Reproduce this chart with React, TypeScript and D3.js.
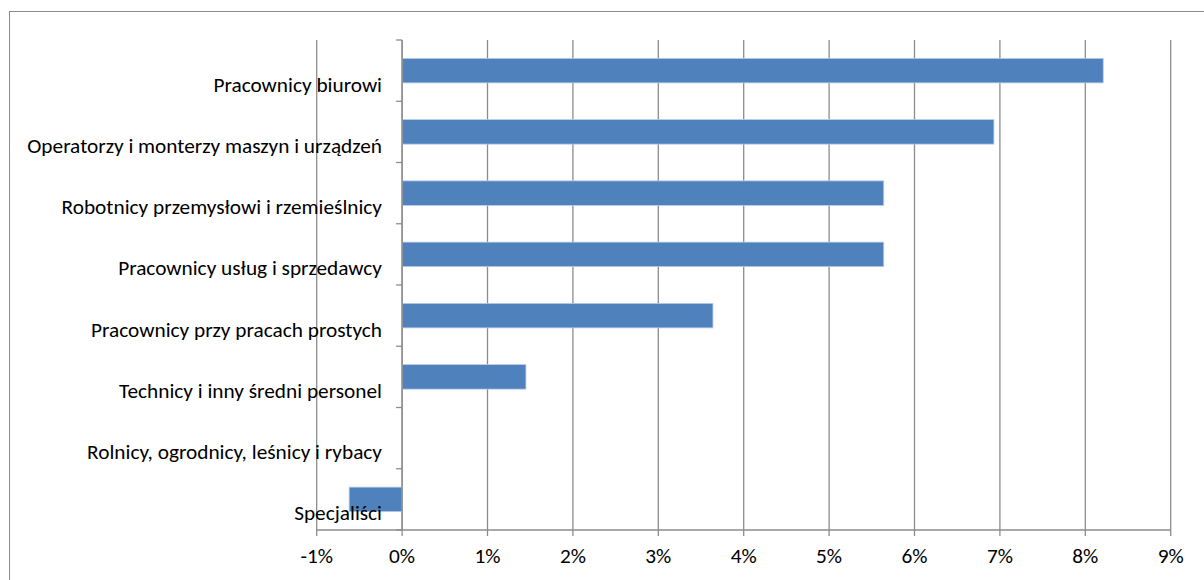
import * as d3 from 'd3';

const width = 1204;
const height = 580;

// categories top to bottom
const categories = [
  'Pracownicy biurowi',
  'Operatorzy i monterzy maszyn i urządzeń',
  'Robotnicy przemysłowi i rzemieślnicy',
  'Pracownicy usług i sprzedawcy',
  'Pracownicy przy pracach prostych',
  'Technicy i inny średni personel',
  'Rolnicy, ogrodnicy, leśnicy i rybacy',
  'Specjaliści',
];
const values = [0.0821, 0.0693, 0.0564, 0.0564, 0.0364, 0.0145, 0, -0.0062];
const xTicks = [-0.01, 0, 0.01, 0.02, 0.03, 0.04, 0.05, 0.06, 0.07, 0.08, 0.09];

const plot = { left: 316.7, right: 1170.7, top: 40, bottom: 530 };
const font = 'Carlito, Calibri, "Open Sans", sans-serif';

export default function App() {
  const x = d3.scaleLinear().domain([-0.01, 0.09]).range([plot.left, plot.right]);
  const y = d3
    .scaleBand<string>()
    .domain(categories)
    .range([plot.top, plot.bottom])
    .paddingInner(0.6)
    .paddingOuter(0.3);
  const step = y.step();
  const fmt = d3.format('.0%');
  const grid = '#8c8c8c';

  return (
    <svg
      width={width}
      height={height}
      style={{ position: 'absolute', left: 0, top: 0, background: '#fff' }}
      fontFamily={font}
    >
      <rect x={9.5} y={11.5} width={1220} height={600} fill="#fff" stroke="#8c8c8c" />

      {/* vertical gridlines */}
      {xTicks.map((t) => (
        <line
          key={'g' + t}
          x1={x(t)}
          x2={x(t)}
          y1={plot.top}
          y2={plot.bottom + 6}
          stroke={grid}
          strokeWidth={1.3}
        />
      ))}
      {/* value axis */}
      <line x1={plot.left} x2={plot.right} y1={plot.bottom} y2={plot.bottom} stroke={grid} strokeWidth={1.3} />

      {/* bars */}
      {categories.map((c, i) => (
        <rect
          key={c}
          x={x(Math.min(0, values[i]))}
          y={y(c)}
          width={Math.abs(x(values[i]) - x(0))}
          height={y.bandwidth()}
          fill="#4f81bd"
          stroke={values[i] === 0 ? 'none' : '#b9cce6'}
          strokeWidth={0.8}
        />
      ))}

      {/* category axis at 0 */}
      <line x1={x(0)} x2={x(0)} y1={plot.top} y2={plot.bottom} stroke={grid} strokeWidth={1.3} />
      {d3.range(categories.length + 1).map((i) => (
        <line
          key={'ct' + i}
          x1={x(0) - 6}
          x2={x(0)}
          y1={plot.top + i * step}
          y2={plot.top + i * step}
          stroke={grid}
          strokeWidth={1.3}
        />
      ))}

      {/* category labels */}
      {categories.map((c) => (
        <text
          key={'l' + c}
          x={382}
          y={(y(c) ?? 0) + y.bandwidth() / 2 + 16}
          textAnchor="end"
          dominantBaseline="middle"
          fontSize={21.3}
          fill="#000"
        >
          {c}
        </text>
      ))}

      {/* tick labels */}
      {xTicks.map((t) => (
        <text
          key={'t' + t}
          x={x(t)}
          y={558}
          textAnchor="middle"
          dominantBaseline="middle"
          fontSize={21.3}
          fill="#000"
        >
          {t < 0 ? '-' + fmt(-t) : fmt(t)}
        </text>
      ))}
    </svg>
  );
}
